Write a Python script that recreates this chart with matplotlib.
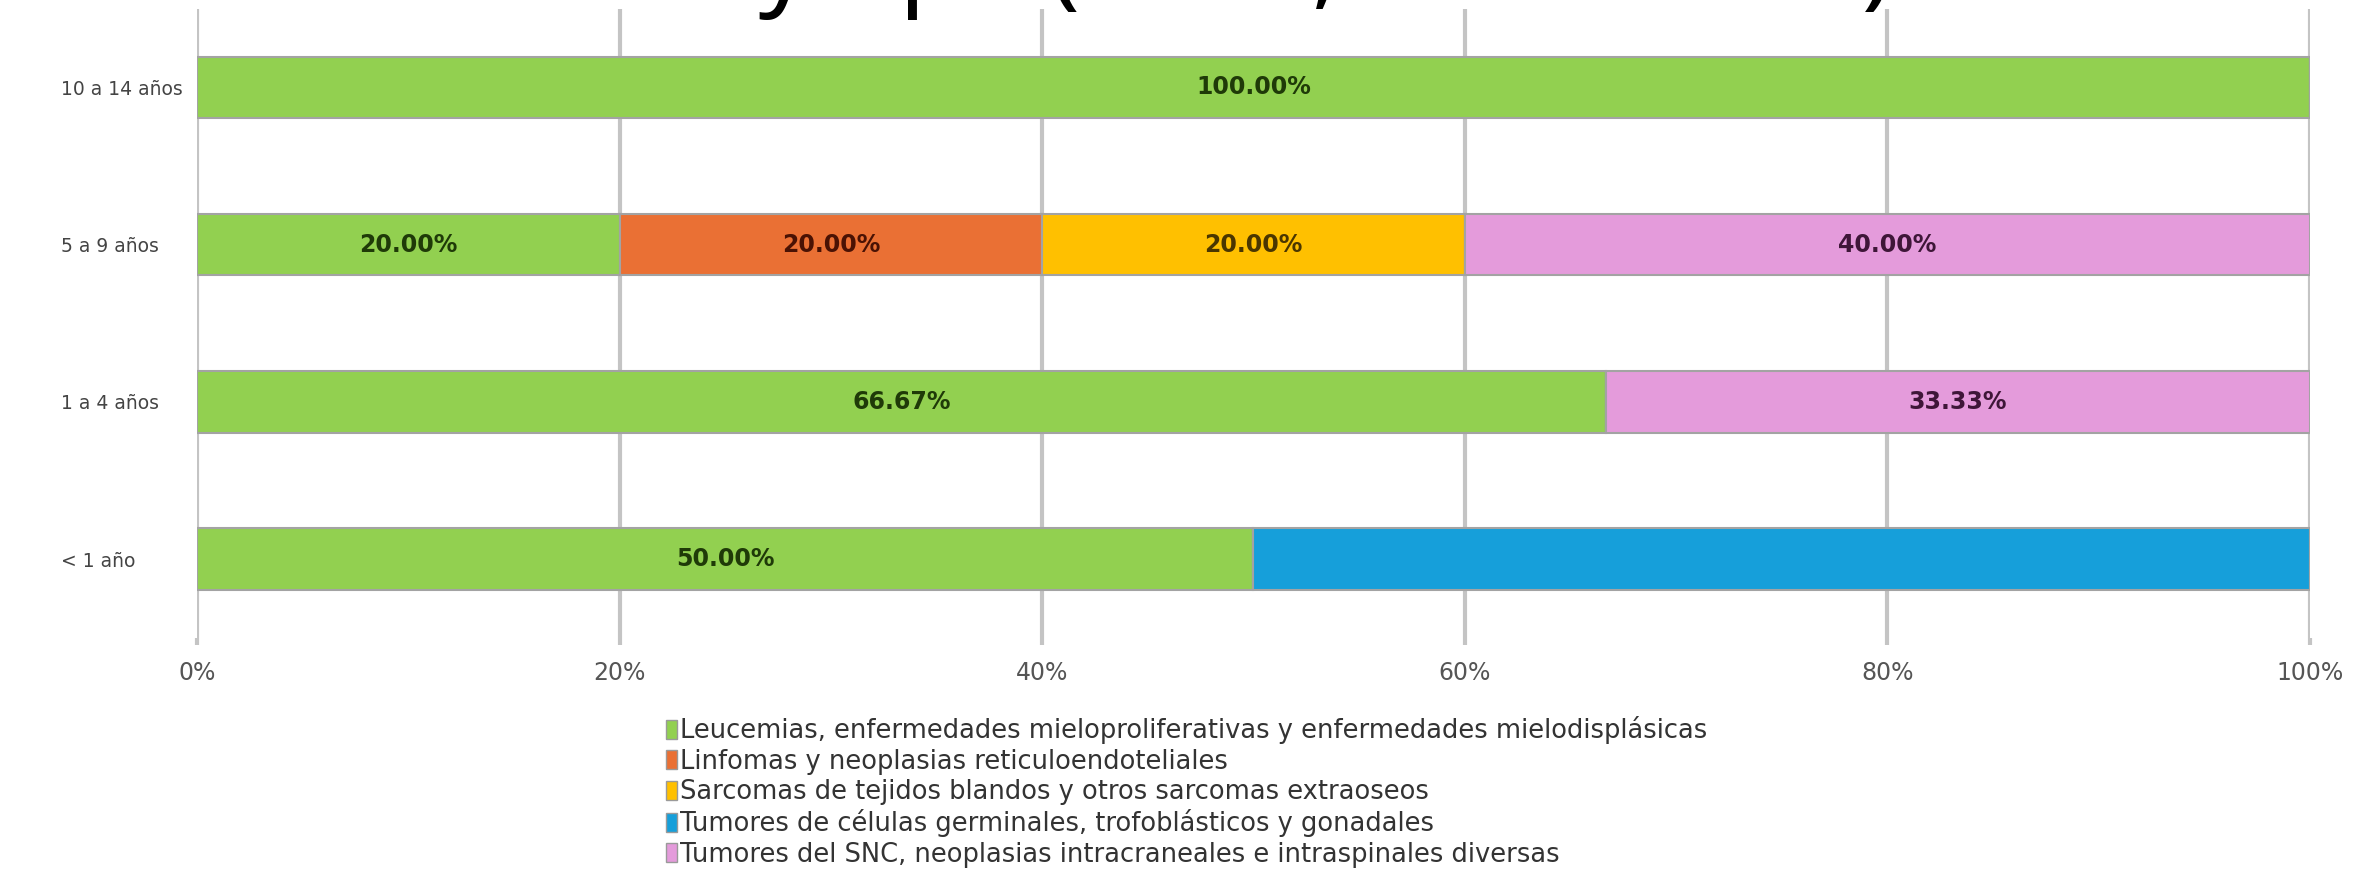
import numpy as np
import matplotlib
matplotlib.use('Agg')
import matplotlib.pyplot as plt
from matplotlib.patches import Patch

# datos (porcentaje por grupo de edad)
groups = ['< 1 año', '1 a 4 años', '5 a 9 años', '10 a 14 años']
series = [
    'Leucemias, enfermedades mieloproliferativas y enfermedades mielodisplásicas',
    'Linfomas y neoplasias reticuloendoteliales',
    'Sarcomas de tejidos blandos y otros sarcomas extraoseos',
    'Tumores de células germinales, trofoblásticos y gonadales',
    'Tumores del SNC, neoplasias intracraneales e intraspinales diversas',
]
leucemias = [50.00, 66.67, 20.00, 100.00]
linfomas = [0, 0, 20.00, 0]
sarcomas = [0, 0, 20.00, 0]
germinales = [50.00, 0, 0, 0]
snc = [0, 33.33, 40.00, 0]
# la etiqueta del segmento azul de "< 1 año" no aparece en el original
show_label = [
    [True, True, True, True],
    [True, True, True, True],
    [True, True, True, True],
    [False, True, True, True],
    [True, True, True, True],
]

colors = ['#92d050', '#ea7034', '#ffc000', '#169fda', '#e49bdb']
label_colors = ['#1f3a08', '#4a1204', '#4a3600', '#05304a', '#3e1638']
title = 'Casos de cáncer infantil de acuerdo a la edad y tipo (2013, 2014-2015)'

fig = plt.figure(figsize=(23.74, 8.76), dpi=100)
ax = fig.add_axes([0.083, 0.272, 0.890, 0.718])

data = [leucemias, linfomas, sarcomas, germinales, snc]
y = np.arange(len(groups))
left = np.zeros(len(groups))
for i, vals in enumerate(data):
    vals = np.array(vals, dtype=float)
    ax.barh(y, vals, left=left, height=0.39, color=colors[i],
            edgecolor='#a3a3a3', linewidth=1.5, zorder=3)
    for j, v in enumerate(vals):
        if v > 0 and show_label[i][j]:
            ax.text(left[j] + v / 2, y[j], f'{v:.2f}%', ha='center', va='center',
                    fontsize=17, fontweight='bold', color=label_colors[i],
                    family='DejaVu Sans', zorder=4)
    left += vals

ax.set_xlim(0, 100)
ax.set_ylim(-0.5, len(groups) - 0.5)
ax.set_xticks([0, 20, 40, 60, 80, 100])
ax.set_xticklabels([f'{t}%' for t in [0, 20, 40, 60, 80, 100]])
ax.set_yticks(y)
ax.set_yticklabels(groups, ha='left')
ax.tick_params(axis='y', length=0, pad=98, labelsize=13.5, labelcolor='#444444')
ax.tick_params(axis='x', length=5, width=3, color='#c4c4c4', pad=12,
               labelsize=17, labelcolor='#555555')
ax.grid(axis='x', color='#c4c4c4', linewidth=3, zorder=0)
for s in ax.spines.values():
    s.set_visible(False)

handles = [Patch(facecolor=c, edgecolor='#9a9a9a', linewidth=1) for c in colors]
fig.legend(handles, series, loc='upper left', bbox_to_anchor=(0.276, 0.194),
           frameon=False, fontsize=18.5, handlelength=0.45, handleheight=0.75,
           handletextpad=0.12, labelspacing=0.17, borderaxespad=0,
           labelcolor='#333333')

# titulo cortado en el borde superior
fig.text(0.797, 1.0 + 4 / 876, title, ha='right', va='baseline', fontsize=73,
         family='Noto Sans', fontweight='normal', color='black')

fig.savefig('out.png', dpi=100, facecolor='white')
